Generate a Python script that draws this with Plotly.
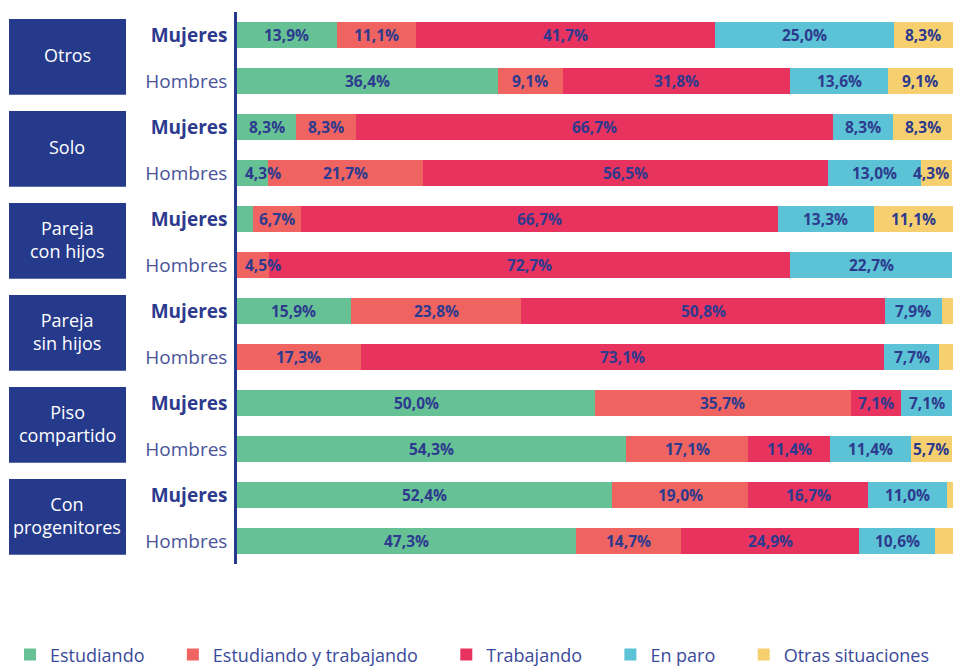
import plotly.graph_objects as go

# ---------------- data ----------------
groups = ["Otros", "Solo", "Pareja<br>con hijos", "Pareja<br>sin hijos",
          "Piso<br>compartido", "Con<br>progenitores"]
sexes = ["Mujeres", "Hombres"]
rows = [f"{g.replace('<br>', ' ')} · {s}" for g in groups for s in sexes]

series_names = ["Estudiando", "Estudiando y trabajando", "Trabajando",
                "En paro", "Otras situaciones"]
estudiando = [13.9, 36.4, 8.3, 4.3, 2.2, 0.0, 15.9, 0.0, 50.0, 54.3, 52.4, 47.3]
estudiando_trabajando = [11.1, 9.1, 8.3, 21.7, 6.7, 4.5, 23.8, 17.3, 35.7, 17.1, 19.0, 14.7]
trabajando = [41.7, 31.8, 66.7, 56.5, 66.7, 72.7, 50.8, 73.1, 7.1, 11.4, 16.7, 24.9]
en_paro = [25.0, 13.6, 8.3, 13.0, 13.3, 22.7, 7.9, 7.7, 7.1, 11.4, 11.0, 10.6]
otras = [8.3, 9.1, 8.3, 4.3, 11.1, 0.0, 1.6, 1.9, 0.0, 5.7, 0.9, 2.5]
series_values = [estudiando, estudiando_trabajando, trabajando, en_paro, otras]

colors = ["#66c295", "#ef6461", "#e8335f", "#5bc3d5", "#f6d06f"]
NAVY = "#263a8c"
LABEL = "#2d3a8e"
FONT = "Open Sans"
PAD = "\u00a0" * 5  # spacing between legend entries

fig = go.Figure()
for k, (name, vals, col) in enumerate(zip(series_names, series_values, colors)):
    fig.add_trace(go.Bar(
        y=rows, x=vals, name=name + (PAD if k < len(series_names) - 1 else ""),
        orientation="h",
        marker=dict(color=col, line=dict(width=0)),
        hovertemplate=name + ": %{x}%<extra></extra>",
    ))

annotations = []
# value labels
for i, r in enumerate(rows):
    start = 0.0
    for vals in series_values:
        v = vals[i]
        if v >= 4:
            cx = min(max(start + v / 2, 3.7), 96.9)
            annotations.append(dict(
                x=cx, y=r, xref="x", yref="y", showarrow=False,
                xanchor="center", yanchor="middle",
                text=f"<b>{v:.1f}%</b>".replace(".", ","),
                font=dict(family=FONT, size=15.5, color=LABEL),
            ))
        start += v

# group boxes on the left
shapes = []
for gi, g in enumerate(groups):
    base = gi * 2
    shapes.append(dict(
        type="rect", xref="paper", yref="y",
        x0=(9 - 237) / 716, x1=(126 - 237) / 716,
        y0=base - 0.35, y1=base + 1.30,
        fillcolor=NAVY, line=dict(width=0), layer="above",
    ))
    annotations.append(dict(
        x=(67 - 237) / 716, y=base + 0.44, xref="paper", yref="y",
        xanchor="center", yanchor="middle",
        text=g, showarrow=False,
        font=dict(family=FONT, size=18, color="white"),
        align="center",
    ))

ticktext = []
for g in groups:
    ticktext.append(f"<b><span style='color:{LABEL}'>Mujeres</span></b>")
    ticktext.append("<span style='color:#4a5398'>Hombres</span>")

fig.update_layout(
    barmode="stack",
    bargap=0.435,
    width=953, height=666,
    margin=dict(l=237, r=0, t=12, b=102, autoexpand=False),
    paper_bgcolor="white", plot_bgcolor="white",
    font=dict(family=FONT, color=LABEL),
    xaxis=dict(range=[0, 100], showticklabels=False, showgrid=False,
               zeroline=False, fixedrange=True),
    yaxis=dict(categoryorder="array", categoryarray=rows,
               autorange="reversed", tickvals=rows, ticktext=ticktext,
               tickfont=dict(family=FONT, size=19),
               showline=True, linecolor=NAVY, linewidth=2.5,
               showgrid=False, ticks="", ticklabelstandoff=3),
    legend=dict(orientation="h", x=(10 - 237) / 716, xanchor="left",
                y=-0.131, yanchor="top",
                font=dict(family=FONT, size=18, color="#3a4a9a"),
                traceorder="normal"),
    shapes=shapes,
    annotations=annotations,
)

fig.write_html(
    "out.html",
    config={"displayModeBar": False},
    post_script="document.body.style.margin='0';document.body.style.overflow='hidden';",
)
